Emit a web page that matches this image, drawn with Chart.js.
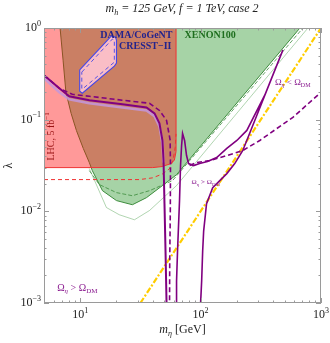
<!DOCTYPE html>
<html><head><meta charset="utf-8">
<script src="https://cdn.jsdelivr.net/npm/chart.js@4/dist/chart.umd.min.js"></script>
<style>html,body{margin:0;padding:0;background:#fff;}</style>
</head><body>
<canvas id="c" width="330" height="343"></canvas>
<script>
// ---- axis ranges and ticks ----
const xRange = [5, 1000];
const yRange = [0.001, 1];
const xDecades = [1, 2, 3];
const yDecades = [0, -1, -2, -3];

// ---- regions (m_eta [GeV], lambda) ----
const xenonRegion = [[6.8,1],[7.2,0.446],[7.6,0.2],[8.4,0.117],[9.3,0.076],[10.6,0.0485],[11.9,0.034],[12.6,0.0278],[15.3,0.0168],[20,0.0131],[27.1,0.0118],[35.5,0.0141],[48.2,0.0191],[63.1,0.0251],[668,1],[6.8,1]];
const xenonDashed = [[11.9,0.0278],[14.4,0.0196],[20,0.016],[27.1,0.0148],[37.6,0.0168],[58.4,0.0216],[708,1]];
const xenonThin = [[11.9,0.0293],[16.5,0.011],[21.1,0.00918],[28.2,0.00809],[37.6,0.0102],[63.1,0.0191],[779,1]];
const lhcRegion = [[5,1],[5,0.03],[40,0.03],[48,0.0308],[56,0.033],[60.5,0.036],[62.5,0.045],[62.5,1],[5,1]];
const lhcDashed = [[5,0.0222],[31,0.0222],[40,0.0232],[48,0.0255],[55,0.029],[59,0.036],[61.5,0.05],[62.5,0.07]];
const damaRegion = [[9.9,0.35],[18.1,0.817],[19.6,0.797],[20,0.739],[20,0.414],[19.2,0.384],[10.4,0.194],[9.9,0.204],[9.9,0.35]];
const damaInner = [[10.3,0.33],[18.5,0.758],[19.2,0.739],[19.2,0.424],[10.4,0.215],[10.3,0.22],[10.3,0.33]];

// ---- curves ----
const relicShade = [[5,0.283],[6.7,0.199],[8.1,0.167],[11.9,0.151],[22.4,0.136],[35.5,0.126],[41.4,0.109],[45.5,0.0845],[48.2,0.055],[49.2,0.034]];
const relicSolidA = [[5,0.306],[6.7,0.22],[8.1,0.18],[11.9,0.163],[22.4,0.147],[35.5,0.136],[41.4,0.117],[45.5,0.091],[48.2,0.059],[49.2,0.0358],[50.1,0.0121],[51.1,0.0037],[52.1,0.001]];
const relicDashedB = [[5,0.306],[6.7,0.22],[8.6,0.189],[11.9,0.18],[22.4,0.163],[37.6,0.151],[45.5,0.126],[52.1,0.0983],[55.8,0.06],[56.2,0.03],[56,0.01],[55.4,0.003],[55.2,0.001]];
const relicSolidC = [[63.1,0.001],[63.1,0.00174],[64.3,0.0037],[66.8,0.0131],[68.1,0.0316],[69.5,0.0523],[70.8,0.0708],[73.6,0.0593],[76.4,0.0406],[79.4,0.0332],[87.5,0.0316],[98.1,0.0332],[114,0.0349],[136,0.0386],[165,0.0485],[200,0.0593],[242,0.0763],[341,0.185],[482,0.574],[355,0.209],[261,0.0763],[224,0.0461],[192,0.0332],[165,0.0258],[126,0.0181],[112,0.0121],[106,0.00613],[104,0.0037],[102,0.00174],[100,0.001]];
const relicDashedD = [[81,0.0316],[92.6,0.034],[119,0.0358],[165,0.0406],[224,0.0461],[310,0.0593],[376,0.0708],[584,0.106],[1000,0.199]];
const gaugeLine = [[31.6,0.001],[1000,1]];

// ---- text anchors ----
const notes = [
  {pos:[58.4,0.838], align:'right', size:10, color:'#23238c', segs:[{t:'DAMA/CoGeNT',b:1}]},
  {pos:[57.3,0.635], align:'right', size:10, color:'#23238c', segs:[{t:'CRESST\u2212II',b:1}]},
  {pos:[73.6,0.838], align:'left', size:10, color:'#1e6e1e', segs:[{t:'XENON100',b:1}]},
  {pos:[414,0.256], align:'left', size:9, color:'#8a1a8f', segs:[{t:'\u03A9'},{t:'\u03B7',it:1,sub:1},{t:' < \u03A9'},{t:'DM',sub:1}]},
  {pos:[84.1,0.0206], align:'left', size:7, color:'#8a1a8f', segs:[{t:'\u03A9'},{t:'\u03B7',it:1,sub:1},{t:' > \u03A9'},{t:'DM',sub:1}]},
  {pos:[6.43,0.00146], align:'left', size:10, color:'#8a1a8f', segs:[{t:'\u03A9'},{t:'\u03B7',it:1,sub:1},{t:' > \u03A9'},{t:'DM',sub:1}]}
];
const lhcNote = {pos:[5.73,0.0656], size:10, color:'#9a1414', segs:[{t:'LHC, 5 fb'},{t:'\u22121',sup:1}]};

const serif = "'Liberation Serif','DejaVu Serif',serif";
const pts = a => a.map(([x,y]) => ({x, y}));
const PURPLE = 'rgb(128,0,128)';

function fontOf(s, sz){ return (s.it?'italic ':'') + (s.b?'bold ':'') + sz + 'px ' + serif; }
function segSize(s, base){ return (s.sub||s.sup) ? Math.round(base*0.7) : base; }
function richWidth(ctx, segs, base){ let w=0; for (const s of segs){ ctx.font = fontOf(s, segSize(s,base)); w += ctx.measureText(s.t).width; } return w; }
function drawRich(ctx, segs, x, y, align, base, color){
  const w = richWidth(ctx, segs, base);
  let cx = align==='center' ? x-w/2 : align==='right' ? x-w : x;
  ctx.fillStyle = color; ctx.textBaseline = 'middle'; ctx.textAlign = 'left';
  for (const s of segs){
    const sz = segSize(s, base);
    ctx.font = fontOf(s, sz);
    const dy = s.sub ? base*0.3 : s.sup ? -base*0.38 : 0;
    ctx.fillText(s.t, cx, y+dy);
    cx += ctx.measureText(s.t).width;
  }
}
function expStr(n){ return (n<0?'\u2212':'') + Math.abs(n); }

const overlay = {
  id: 'overlay',
  afterDatasetsDraw(chart){
    const ctx = chart.ctx, xs = chart.scales.x, ys = chart.scales.y, a = chart.chartArea;
    ctx.save();
    for (const n of notes){
      drawRich(ctx, n.segs, xs.getPixelForValue(n.pos[0]), ys.getPixelForValue(n.pos[1]), n.align, n.size, n.color);
    }
    ctx.save();
    ctx.translate(xs.getPixelForValue(lhcNote.pos[0]), ys.getPixelForValue(lhcNote.pos[1]));
    ctx.rotate(-Math.PI/2);
    drawRich(ctx, lhcNote.segs, 0, 0, 'center', lhcNote.size, lhcNote.color);
    ctx.restore();
    ctx.strokeStyle = '#9a9a9a'; ctx.lineWidth = 1;
    ctx.strokeRect(a.left+0.5, a.top+0.5, a.right-a.left-1, a.bottom-a.top-1);
    ctx.beginPath();
    for (let d=0; d<=3; d++) for (let m=1; m<=9; m++){
      const v = m*Math.pow(10,d);
      if (v < xRange[0] || v > xRange[1]) continue;
      const px = Math.round(xs.getPixelForValue(v))+0.5, L = m===1?5:2.5;
      ctx.moveTo(px, a.bottom); ctx.lineTo(px, a.bottom-L);
      ctx.moveTo(px, a.top); ctx.lineTo(px, a.top+L);
    }
    for (let d=-3; d<=0; d++) for (let m=1; m<=9; m++){
      const v = m*Math.pow(10,d);
      if (v < yRange[0] || v > yRange[1]+1e-9) continue;
      const py = Math.round(ys.getPixelForValue(v))+0.5, L = m===1?5:2.5;
      ctx.moveTo(a.left, py); ctx.lineTo(a.left+L, py);
      ctx.moveTo(a.right, py); ctx.lineTo(a.right-L, py);
    }
    ctx.stroke();
    ctx.restore();
  },
  afterDraw(chart){
    const ctx = chart.ctx, xs = chart.scales.x, ys = chart.scales.y, a = chart.chartArea;
    ctx.save();
    for (const d of xDecades){
      drawRich(ctx, [{t:'10'},{t:expStr(d),sup:1}], xs.getPixelForValue(Math.pow(10,d)), a.bottom+12, 'center', 12, '#222');
    }
    for (const d of yDecades){
      drawRich(ctx, [{t:'10'},{t:expStr(d),sup:1}], a.left-3, ys.getPixelForValue(Math.pow(10,d)), 'right', 12, '#222');
    }
    drawRich(ctx, [{t:'m',it:1},{t:'h',it:1,sub:1},{t:' = 125 GeV, f = 1 TeV, case 2',it:1}], 182, 9, 'center', 12, '#222');
    drawRich(ctx, [{t:'m',it:1},{t:'\u03B7',it:1,sub:1},{t:' [GeV]'}], (a.left+a.right)/2, 330, 'center', 12, '#222');
    ctx.save(); ctx.translate(9, (a.top+a.bottom)/2); ctx.rotate(-Math.PI/2);
    drawRich(ctx, [{t:'\u03BB'}], 0, 0, 'center', 12, '#222');
    ctx.restore();
    ctx.restore();
  }
};

const layers = [
  {data: xenonRegion, borderColor:'rgb(60,140,60)', borderWidth:1, fill:'shape', backgroundColor:'rgba(0,128,0,0.35)'},
  {data: xenonDashed, borderColor:'rgb(60,140,60)', borderWidth:0.8, borderDash:[4,2]},
  {data: xenonThin, borderColor:'rgba(60,150,60,0.5)', borderWidth:0.8},
  {data: lhcRegion, borderColor:'rgb(240,50,50)', borderWidth:1, fill:'shape', backgroundColor:'rgba(255,0,0,0.4)'},
  {data: lhcDashed, borderColor:'rgb(240,50,50)', borderWidth:1, borderDash:[4,3]},
  {data: damaRegion, borderColor:'rgb(70,70,230)', borderWidth:1.1, fill:'shape', backgroundColor:'rgb(250,190,198)'},
  {data: damaInner, borderColor:'rgb(70,70,230)', borderWidth:0.9, borderDash:[4,3]},
  {data: gaugeLine, borderColor:'rgb(255,205,0)', borderWidth:2.2, borderDash:[6,2,2,2]},
  {data: relicShade, borderColor:'rgba(195,150,220,0.85)', borderWidth:2.6},
  {data: relicSolidA, borderColor:PURPLE, borderWidth:2},
  {data: relicDashedB, borderColor:PURPLE, borderWidth:1.6, borderDash:[5,3]},
  {data: relicSolidC, borderColor:PURPLE, borderWidth:1.6},
  {data: relicDashedD, borderColor:PURPLE, borderWidth:1.6, borderDash:[5,3]}
];

const datasets = layers.map((l, i) => Object.assign({
  pointRadius: 0, fill: false, tension: 0, order: 100 - i
}, l, {data: pts(l.data)}));

new Chart(document.getElementById('c'), {
  type: 'line',
  data: {datasets},
  options: {
    responsive: false, animation: false, devicePixelRatio: 1,
    layout: {padding: {left: 0, right: 9, top: 28, bottom: 0}},
    plugins: {legend: {display: false}, tooltip: {enabled: false}, title: {display: false}},
    scales: {
      x: {type: 'logarithmic', min: xRange[0], max: xRange[1], ticks: {display: false}, grid: {display: false}, border: {display: false},
          afterFit: s => { s.height = 40; }},
      y: {type: 'logarithmic', min: yRange[0], max: yRange[1], ticks: {display: false}, grid: {display: false}, border: {display: false},
          afterFit: s => { s.width = 44; }}
    }
  },
  plugins: [overlay]
});
</script>
</body></html>
